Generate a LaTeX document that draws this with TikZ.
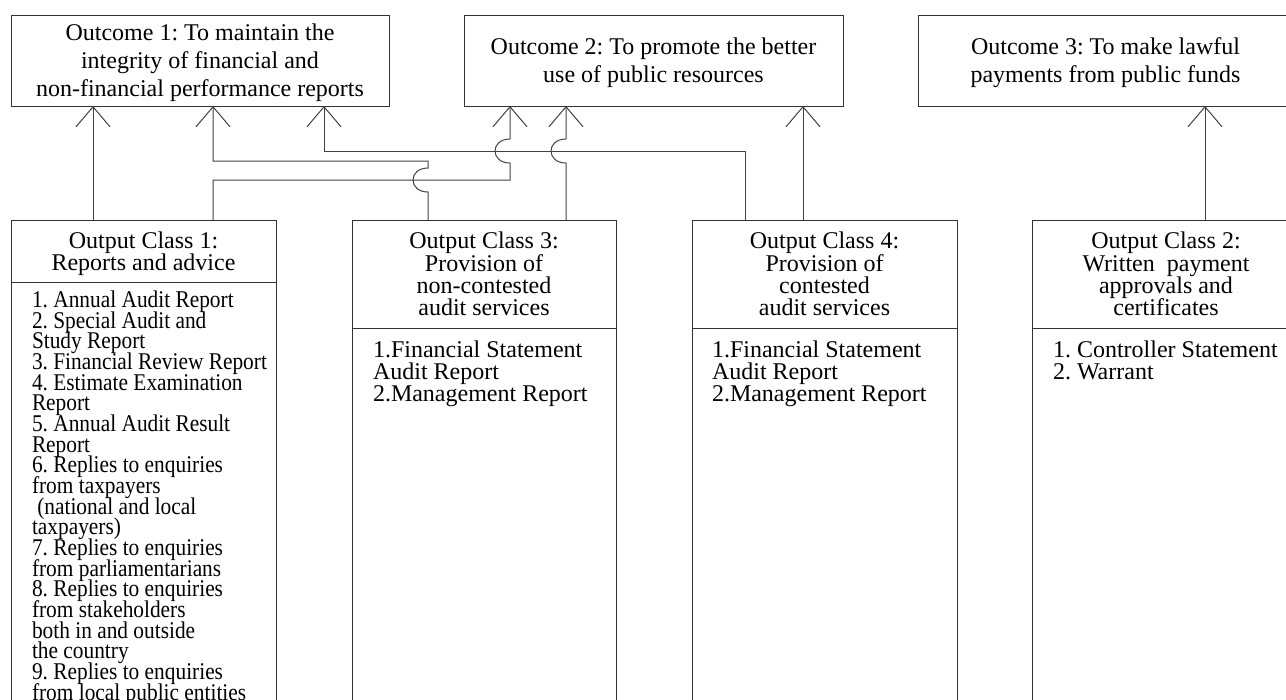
\documentclass[tikz,border=0pt]{standalone}
\usepackage{fontspec}
\setmainfont{Liberation Serif}
\newfontfamily\narrowserif{Liberation Serif}[FakeStretch=0.89]
\usetikzlibrary{arrows.meta,calc}
\newlength\pxu
\setlength\pxu{0.75pt}

\tikzset{
  frame/.style={draw=black!80, line width=0.75pt, rectangle, inner sep=0pt, outer sep=0pt, anchor=north west},
  goalbox/.style={frame, minimum height=91\pxu, align=center, text depth=0pt,
    font={\fontsize{18}{21}\selectfont\lineskiplimit=-50pt}},
  headbox/.style={frame, align=center, text depth=0pt,
    font={\fontsize{18}{16.7}\selectfont\lineskiplimit=-50pt}},
  bodybox/.style={frame, minimum height=440\pxu},
  listtext/.style={anchor=north west, inner sep=0pt, outer sep=0pt, align=left,
    font={\fontsize{18}{16.5}\selectfont\lineskiplimit=-50pt}},
  narrowlist/.style={listtext,
    font={\narrowserif\fontsize{18}{15.5}\selectfont\lineskiplimit=-50pt}},
  link/.style={draw=black!75, line width=0.75pt,
    -{Straight Barb[length=15pt,width=25.5pt,line width=0.75pt]}}
}

\begin{document}
\frenchspacing
\begin{tikzpicture}[x=1\pxu,y=-1\pxu]
\useasboundingbox (0,0) rectangle (1286,700);
\clip (0,0) rectangle (1286,700);

% outcomes
\node[goalbox, minimum width=378\pxu] (out1) at (11,15)
  {Outcome 1: To maintain the\\integrity of financial and\\non-financial performance reports};
\node[goalbox, minimum width=379\pxu] (out2) at (464,15)
  {Outcome 2: To promote the better\\use of public resources};
\node[goalbox, minimum width=375\pxu] (out3) at (918,15)
  {Outcome 3: To make lawful\\payments from public funds};

% output classes: heading and body
\node[headbox, minimum width=265\pxu, minimum height=62\pxu] (oc1h) at (11,220)
  {Output Class 1:\\Reports and advice};
\node[bodybox, minimum width=265\pxu] (oc1b) at (oc1h.south west) {};
\node[headbox, minimum width=264\pxu, minimum height=108\pxu] (oc3h) at (352,220)
  {Output Class 3:\\Provision of\\non-contested\\audit services};
\node[bodybox, minimum width=264\pxu] (oc3b) at (oc3h.south west) {};
\node[headbox, minimum width=265\pxu, minimum height=108\pxu] (oc4h) at (692,220)
  {Output Class 4:\\Provision of\\contested\\audit services};
\node[bodybox, minimum width=265\pxu] (oc4b) at (oc4h.south west) {};
\node[headbox, minimum width=268\pxu, minimum height=108\pxu] (oc2h) at (1032,220)
  {Output Class 2:\\Written\ \ payment\\approvals and\\certificates};
\node[bodybox, minimum width=268\pxu] (oc2b) at (oc2h.south west) {};

% output lists
\node[narrowlist] (oc1l) at (32,291)
  {1. Annual Audit Report\\
   2. Special Audit and\\
   Study Report\\
   3. Financial Review Report\\
   4. Estimate Examination\\
   Report\\
   5. Annual Audit Result\\
   Report\\
   6. Replies to enquiries\\
   from taxpayers\\
   \ (national and local\\
   taxpayers)\\
   7. Replies to enquiries\\
   from parliamentarians\\
   8. Replies to enquiries\\
   from stakeholders\\
   both in and outside\\
   the country\\
   9. Replies to enquiries\\
   from local public entities};
\node[listtext] (oc3l) at (373,341)
  {1.Financial Statement\\Audit Report\\2.Management Report};
\node[listtext] (oc4l) at (712,341)
  {1.Financial Statement\\Audit Report\\2.Management Report};
\node[listtext] (oc2l) at (1053,341)
  {1. Controller Statement\\2. Warrant};

% connector columns and rows
\coordinate (c93) at (93,0);
\coordinate (c213) at (213,0);
\coordinate (c324) at (324,0);
\coordinate (c428) at (428,0);
\coordinate (c510) at (510,0);
\coordinate (c566) at (566,0);
\coordinate (c745) at (745,0);
\coordinate (c803) at (803,0);
\coordinate (c1205) at (1205,0);
\coordinate (r151) at (0,151);
\coordinate (r161) at (0,161);
\coordinate (r180) at (0,180);

% connectors (hops where lines cross)
\draw[link] (oc1h.north -| c93) -- (out1.south -| c93);
\draw[link] (oc1h.north -| c213) |- (c510 |- r180)
  -- ($(c510 |- r151)+(0,12)$) .. controls +(-20,0) and +(-20,0) .. ++(0,-24)
  -- (out2.south -| c510);
\draw[link] (oc3h.north -| c428)
  -- ($(c428 |- r180)+(0,12)$) .. controls +(-20,0) and +(-20,0) .. ++(0,-24)
  |- (c213 |- r161) -- (out1.south -| c213);
\draw[link] (oc4h.north -| c745) |- (c324 |- r151) -- (out1.south -| c324);
\draw[link] (oc3h.north -| c566)
  -- ($(c566 |- r151)+(0,12)$) .. controls +(-20,0) and +(-20,0) .. ++(0,-24)
  -- (out2.south -| c566);
\draw[link] (oc4h.north -| c803) -- (out2.south -| c803);
\draw[link] (oc2h.north -| c1205) -- (out3.south -| c1205);
\end{tikzpicture}
\end{document}
